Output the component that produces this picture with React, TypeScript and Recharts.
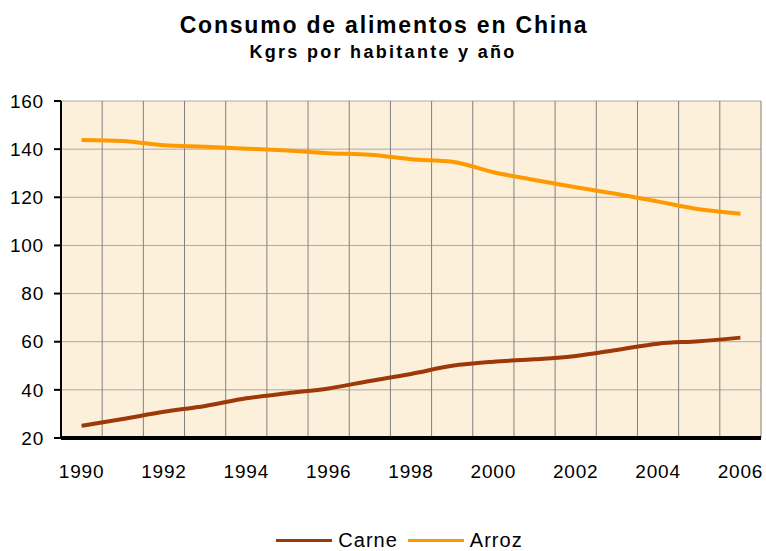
import React from "react";
import {
  LineChart,
  Line,
  XAxis,
  YAxis,
  CartesianGrid,
  Legend,
} from "recharts";

const years = [
  "1990", "1991", "1992", "1993", "1994", "1995", "1996", "1997", "1998",
  "1999", "2000", "2001", "2002", "2003", "2004", "2005", "2006",
];
const seriesNames = ["Carne", "Arroz"];
const carne = [25.1, 27.9, 30.9, 33.3, 36.5, 38.6, 40.6, 43.7, 46.6, 50.0, 51.7, 52.7, 54.1, 56.6, 59.2, 60.2, 61.7];
const arroz = [143.8, 143.4, 141.6, 141.0, 140.2, 139.4, 138.3, 137.7, 135.8, 134.8, 130.4, 127.2, 124.2, 121.4, 118.2, 115.0, 113.2];
const yTicks = [20, 40, 60, 80, 100, 120, 140, 160];

const data = years.map((y, i) => ({ year: y, Carne: carne[i], Arroz: arroz[i] }));

const FONT = "'Liberation Sans', Arial, sans-serif";
const tickStyle = { fontSize: 19, fill: "#000", fontFamily: FONT, letterSpacing: 0.8 };

const bandEdges = ({ offset }: any) =>
  Array.from({ length: years.length + 1 }, (_, i) => offset.left + (i * offset.width) / years.length);

function LegendContent({ payload }: any) {
  const items = [...(payload || [])].sort(
    (a: any, b: any) => seriesNames.indexOf(a.value) - seriesNames.indexOf(b.value)
  );
  return (
    <div
      style={{
        display: "flex",
        justifyContent: "center",
        alignItems: "center",
        height: 22,
        paddingLeft: 48,
        fontFamily: FONT,
        fontSize: 20,
        letterSpacing: 1,
        color: "#000",
      }}
    >
      {items.map((p: any) => (
        <div key={p.value} style={{ display: "flex", alignItems: "center", marginRight: 10 }}>
          <div style={{ width: 56, height: 3, background: p.color, marginRight: 6 }} />
          <span>{p.value}</span>
        </div>
      ))}
    </div>
  );
}

export default function App() {
  return (
    <div style={{ position: "absolute", left: 0, top: 0, width: 766, height: 551, background: "#fff" }}>
      <div
        style={{
          position: "absolute",
          top: 14,
          left: 0,
          width: 766,
          textAlign: "center",
          fontFamily: FONT,
          fontWeight: "bold",
          fontSize: 23,
          lineHeight: "23px",
          letterSpacing: 1.8,
          paddingLeft: 2,
          boxSizing: "border-box",
        }}
      >
        Consumo de alimentos en China
      </div>
      <div
        style={{
          position: "absolute",
          top: 43,
          left: 0,
          width: 766,
          textAlign: "center",
          fontFamily: FONT,
          fontWeight: "bold",
          fontSize: 18,
          lineHeight: "18px",
          letterSpacing: 2.3,
          boxSizing: "border-box",
        }}
      >
        Kgrs por habitante y año
      </div>
      <LineChart
        width={766}
        height={551}
        data={data}
        margin={{ top: 101, right: 5, bottom: 0, left: 0 }}
      >
        <CartesianGrid
          fill="#FCF0DA"
          fillOpacity={1}
          stroke="#A8A8A8"
          vertical={false}
        />
        <CartesianGrid
          stroke="#808080"
          horizontal={false}
          verticalCoordinatesGenerator={bandEdges}
        />
        <XAxis
          dataKey="year"
          scale="band"
          interval={1}
          height={91}
          tickSize={0}
          tickMargin={27}
          axisLine={{ stroke: "#000", strokeWidth: 4 }}
          tickLine={false}
          tick={tickStyle}
        />
        <YAxis
          domain={[20, 160]}
          ticks={yTicks}
          width={61}
          tickSize={7}
          tickMargin={10}
          axisLine={{ stroke: "#000", strokeWidth: 2 }}
          tickLine={{ stroke: "#000", strokeWidth: 2 }}
          tick={tickStyle}
          interval={0}
        />
        <Line
          type="monotone"
          dataKey="Carne"
          stroke="#9E3808"
          strokeWidth={4}
          dot={false}
          isAnimationActive={false}
        />
        <Line
          type="monotone"
          dataKey="Arroz"
          stroke="#FF9900"
          strokeWidth={4}
          dot={false}
          isAnimationActive={false}
        />
        <Legend verticalAlign="bottom" height={22} content={<LegendContent />} />
      </LineChart>
    </div>
  );
}
